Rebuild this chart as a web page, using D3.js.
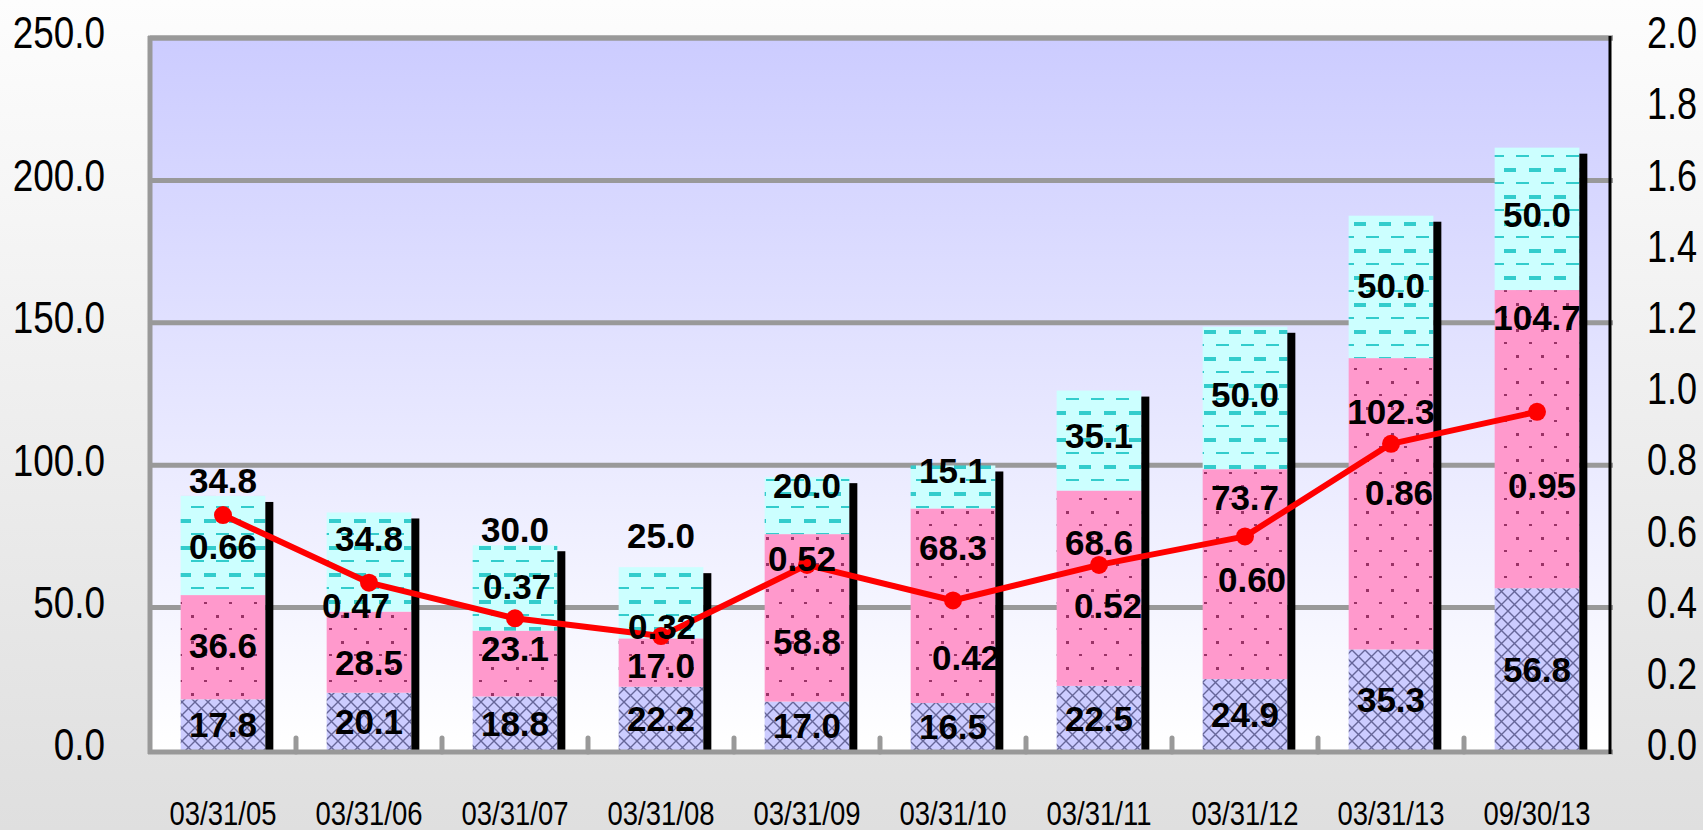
<!DOCTYPE html>
<html>
<head>
<meta charset="utf-8">
<script src="https://cdn.jsdelivr.net/npm/d3@7"></script>
<style>
body { margin: 0; background: #fff; }
svg { display: block; }
</style>
</head>
<body>
<svg id="chart" width="1703" height="830"></svg>
<script>
// data
var dates = ["03/31/05", "03/31/06", "03/31/07", "03/31/08", "03/31/09",
             "03/31/10", "03/31/11", "03/31/12", "03/31/13", "09/30/13"];
var bottomVals = [17.8, 20.1, 18.8, 22.2, 17.0, 16.5, 22.5, 24.9, 35.3, 56.8];
var middleVals = [36.6, 28.5, 23.1, 17.0, 58.8, 68.3, 68.6, 73.7, 102.3, 104.7];
var topVals = [34.8, 34.8, 30.0, 25.0, 20.0, 15.1, 35.1, 50.0, 50.0, 50.0];
var ratio = [0.66, 0.47, 0.37, 0.32, 0.52, 0.42, 0.52, 0.60, 0.86, 0.95];
var leftTicks = [0, 50, 100, 150, 200, 250];
var rightTicks = [0, 0.2, 0.4, 0.6, 0.8, 1.0, 1.2, 1.4, 1.6, 1.8, 2.0];

// where the hand-placed labels sit (axis units), as in the original
var middleLabelAt = [36.9, 30.9, 35.6, 29.8, 38.3, 71.0, 73.0, 88.7, 118.8, 152.0];
var topLabelAt = [94.5, 74.4, 77.6, 75.5, 92.9, 98.0, 110.4, 125.0, 163.1, 188.2];
var ratioLabelAt = [0.573, 0.407, 0.459, 0.346, 0.537, 0.261, 0.407, 0.478, 0.725, 0.743];
var ratioLabelDx = [0, -13, 2, 1, -5, 13, 9, 7, 8, 5];

var svg = d3.select("#chart"),
    width = +svg.attr("width"),
    height = +svg.attr("height");

var plotL = 150, plotR = 1610, plotT = 38, plotB = 750;
var axisFont = "'Liberation Sans', Arial, sans-serif";
var labelFont = "'Liberation Sans', Arial, sans-serif";

var x = d3.scaleBand().domain(dates).range([plotL, plotR])
    .paddingInner(0.42).paddingOuter(0.21);
var y = d3.scaleLinear().domain([0, 250]).range([plotB, plotT]);
var y2 = d3.scaleLinear().domain([0, 2]).range([plotB, plotT]);

var defs = svg.append("defs");

var bg = defs.append("linearGradient").attr("id", "bg")
    .attr("x1", 0).attr("y1", 0).attr("x2", 0).attr("y2", 1);
bg.append("stop").attr("offset", 0).attr("stop-color", "#fdfdfd");
bg.append("stop").attr("offset", 1).attr("stop-color", "#dfdfdf");

var pg = defs.append("linearGradient").attr("id", "plotbg")
    .attr("x1", 0).attr("y1", 0).attr("x2", 0).attr("y2", 1);
pg.append("stop").attr("offset", 0).attr("stop-color", "#ccccff");
pg.append("stop").attr("offset", 1).attr("stop-color", "#ffffff");

// crosshatch for the bottom part
var p1 = defs.append("pattern").attr("id", "hatch")
    .attr("patternUnits", "userSpaceOnUse").attr("width", 13).attr("height", 13);
p1.append("rect").attr("width", 13).attr("height", 13).attr("fill", "#ccccff");
p1.append("path").attr("d", "M0,0L13,13M13,0L0,13")
    .attr("stroke", "#666699").attr("stroke-width", 1.4);

// dots for the middle part
var p2 = defs.append("pattern").attr("id", "dots")
    .attr("patternUnits", "userSpaceOnUse").attr("width", 25).attr("height", 26);
p2.append("rect").attr("width", 25).attr("height", 26).attr("fill", "#ff99cc");
p2.append("rect").attr("x", 4).attr("y", 4).attr("width", 3).attr("height", 2).attr("fill", "#993366");
p2.append("rect").attr("x", 16).attr("y", 17).attr("width", 3).attr("height", 3).attr("fill", "#993366");

// dashes for the top part
var p3 = defs.append("pattern").attr("id", "dashes")
    .attr("patternUnits", "userSpaceOnUse").attr("width", 25).attr("height", 27);
p3.append("rect").attr("width", 25).attr("height", 27).attr("fill", "#ccffff");
p3.append("rect").attr("x", 4).attr("y", 6).attr("width", 12).attr("height", 4).attr("fill", "#33cccc");
p3.append("rect").attr("x", 16).attr("y", 20).attr("width", 13).attr("height", 2).attr("fill", "#33cccc");
p3.append("rect").attr("x", -9).attr("y", 20).attr("width", 13).attr("height", 2).attr("fill", "#33cccc");

svg.append("rect").attr("width", width).attr("height", height).attr("fill", "url(#bg)");
svg.append("rect").attr("x", plotL).attr("y", plotT)
    .attr("width", plotR - plotL).attr("height", plotB - plotT)
    .attr("fill", "url(#plotbg)");

// gridlines
svg.append("g").selectAll("line")
    .data(leftTicks.filter(d => d > 0))
    .enter().append("line")
      .attr("x1", plotL).attr("x2", plotR + 3)
      .attr("y1", d => y(d)).attr("y2", d => y(d))
      .attr("stroke", "#999999").attr("stroke-width", 5);

// stacked bars
var stacks = dates.map((d, i) => {
    var b1 = bottomVals[i], m1 = b1 + middleVals[i], t1 = m1 + topVals[i];
    return {date: d, parts: [
        {lo: 0, hi: b1, fill: "url(#hatch)"},
        {lo: b1, hi: m1, fill: "url(#dots)"},
        {lo: m1, hi: t1, fill: "url(#dashes)"}
    ], total: t1};
});

var bars = svg.append("g").selectAll("g")
    .data(stacks)
    .enter().append("g");

bars.selectAll("rect")
    .data(d => d.parts.map(p => Object.assign({date: d.date}, p)))
    .enter().append("rect")
      .attr("x", d => x(d.date))
      .attr("width", x.bandwidth())
      .attr("y", d => y(d.hi))
      .attr("height", d => y(d.lo) - y(d.hi))
      .attr("fill", d => d.fill);

// black side strip
bars.append("rect")
    .attr("x", d => x(d.date) + x.bandwidth())
    .attr("width", 8)
    .attr("y", d => y(d.total) + 6)
    .attr("height", d => plotB - y(d.total) - 6)
    .attr("fill", "#000");

// frame: left, top, bottom
svg.append("line").attr("x1", plotL).attr("x2", plotL).attr("y1", plotT - 2).attr("y2", plotB + 4)
    .attr("stroke", "#999999").attr("stroke-width", 5);
svg.append("line").attr("x1", plotL - 2).attr("x2", plotR + 3).attr("y1", plotT).attr("y2", plotT)
    .attr("stroke", "#999999").attr("stroke-width", 5);
svg.append("line").attr("x1", plotL - 2).attr("x2", plotR + 3).attr("y1", plotB + 2).attr("y2", plotB + 2)
    .attr("stroke", "#999999").attr("stroke-width", 5);

// category separators on the bottom axis
var gap = x.step() * x.paddingInner() / 2;
svg.append("g").selectAll("line")
    .data(dates.slice(1))
    .enter().append("line")
      .attr("x1", d => x(d) - gap)
      .attr("x2", d => x(d) - gap)
      .attr("y1", plotB - 12).attr("y2", plotB + 2)
      .attr("stroke", "#999999").attr("stroke-width", 5).attr("stroke-linecap", "round");

// right axis line
svg.append("line").attr("x1", plotR).attr("x2", plotR).attr("y1", plotT - 2).attr("y2", plotB + 4)
    .attr("stroke", "#000").attr("stroke-width", 3);

// axes text
var yAxis = svg.append("g").attr("transform", "translate(" + plotL + ",0)")
    .call(d3.axisLeft(y).tickValues(leftTicks).tickFormat(d3.format(".1f")).tickSize(0).tickPadding(45));
var y2Axis = svg.append("g").attr("transform", "translate(" + plotR + ",0)")
    .call(d3.axisRight(y2).tickValues(rightTicks).tickFormat(d3.format(".1f")).tickSize(0).tickPadding(37));
var xAxis = svg.append("g").attr("transform", "translate(0," + (plotB + 2) + ")")
    .call(d3.axisBottom(x).tickSize(0).tickPadding(49));

[yAxis, y2Axis, xAxis].forEach(a => {
    a.select(".domain").remove();
    a.selectAll("text").attr("fill", "#000").style("font-family", axisFont);
});
yAxis.selectAll("text").style("font-size", "45px").attr("dy", "0.22em");
y2Axis.selectAll("text").style("font-size", "44px").attr("dy", "0.22em");
xAxis.selectAll("text").style("font-size", "33.5px");

// the original axis font is a condensed face: squeeze each label about its anchor
svg.selectAll(".tick text").each(function() {
    var ax = +this.getAttribute("x") || 0;
    d3.select(this).attr("transform",
        "translate(" + ax + ",0) scale(0.82,1) translate(" + (-ax) + ",0)");
});

// ratio line
var line = d3.line()
    .x(d => x(d.date) + x.bandwidth() / 2)
    .y(d => y2(d.v));
var pts = dates.map((d, i) => ({date: d, v: ratio[i]}));

svg.append("path").datum(pts)
    .attr("d", line)
    .attr("fill", "none").attr("stroke", "#ff0000").attr("stroke-width", 6)
    .attr("stroke-linejoin", "round");
svg.append("g").selectAll("circle")
    .data(pts)
    .enter().append("circle")
      .attr("cx", d => x(d.date) + x.bandwidth() / 2)
      .attr("cy", d => y2(d.v))
      .attr("r", 9)
      .attr("fill", "#ff0000");

// value labels
var labels = svg.append("g")
    .style("font-family", labelFont).style("font-weight", "bold").style("font-size", "35px")
    .attr("text-anchor", "middle").attr("fill", "#000");

function addLabels(vals, pos, fmt, dx) {
    labels.selectAll(null)
        .data(vals)
        .enter().append("text")
          .attr("x", (d, i) => x(dates[i]) + x.bandwidth() / 2 + (dx ? dx[i] : 0))
          .attr("y", (d, i) => pos(i))
          .attr("dy", "0.36em")
          .text(d => fmt(d));
}
var f1 = d3.format(".1f"), f2 = d3.format(".2f");
addLabels(bottomVals, i => y(bottomVals[i] / 2), f1);
addLabels(middleVals, i => y(middleLabelAt[i]), f1);
addLabels(topVals, i => y(topLabelAt[i]), f1);
addLabels(ratio, i => y2(ratioLabelAt[i]), f2, ratioLabelDx);
</script>
</body>
</html>
